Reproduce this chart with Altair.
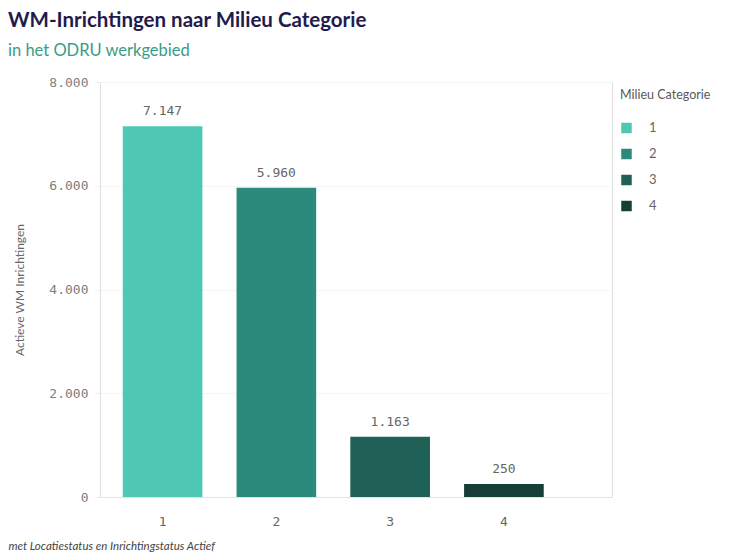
import altair as alt
import pandas as pd

categories = ["1", "2", "3", "4"]
values = [7147, 5960, 1163, 250]
colors = ["#4ec8b5", "#2b8a7b", "#1f6157", "#163d36"]
y_ticks = [0, 2000, 4000, 6000, 8000]

df = pd.DataFrame({"cat": categories, "val": values})

mono = "DejaVu Sans Mono"
sans = "Lato"

x_enc = alt.X(
    "cat:N",
    sort=categories,
    scale=alt.Scale(paddingInner=0.3, paddingOuter=0.4, align=0.25),
    axis=alt.Axis(
        title="met Locatiestatus en Inrichtingstatus Actief",
        titleFont=sans, titleFontStyle="italic", titleFontWeight="normal",
        titleFontSize=11.5, titleColor="#444444",
        titleX=-92, titleY=49, titleAlign="left", titleBaseline="middle",
        labelFont=mono, labelFontSize=13, labelColor="#666666",
        labelAngle=0, labelPadding=18, ticks=False,
        domainColor="#e3e3e3", grid=False,
    ),
)

bars = alt.Chart(df).mark_bar().encode(
    x=x_enc,
    y=alt.Y(
        "val:Q",
        scale=alt.Scale(domain=[0, 8000], nice=False),
        axis=alt.Axis(
            title="Actieve WM Inrichtingen",
            titleFont=sans, titleFontSize=12, titleFontWeight="normal",
            titleColor="#666666", titlePadding=22,
            values=y_ticks,
            labelExpr="replace(format(datum.value, ','), ',', '.')",
            labelFont=mono, labelFontSize=13, labelColor="#808080",
            labelPadding=7, tickSize=5, tickColor="#eeeeee",
            domain=False, gridColor="#f5f5f5",
        ),
    ),
    color=alt.Color(
        "cat:N",
        sort=categories,
        scale=alt.Scale(domain=categories, range=colors),
        legend=alt.Legend(
            title="Milieu Categorie",
            orient="none", legendX=520, legendY=7,
            titleFont=sans, titleFontSize=12.5, titleFontWeight="normal",
            titleColor="#595959", titlePadding=20,
            labelFont=sans, labelFontSize=13, labelColor="#666666",
            symbolType="square", symbolSize=110, symbolStrokeWidth=0,
            rowPadding=12, labelOffset=16,
        ),
    ),
)

labels = alt.Chart(df).transform_calculate(
    lbl="replace(format(datum.val, ','), ',', '.')"
).mark_text(
    font=mono, fontSize=13, color="#666666", baseline="bottom", dy=-8
).encode(
    x=alt.X("cat:N", sort=categories),
    y="val:Q",
    text="lbl:N",
)

chart = (
    alt.layer(bars, labels)
    .properties(
        width=512,
        height=415,
        title=alt.TitleParams(
            text="WM-Inrichtingen naar Milieu Categorie",
            subtitle="in het ODRU werkgebied",
            anchor="start", frame="bounds",
            font=sans, fontSize=20.5, fontWeight="bold", color="#1f1b4d",
            subtitleFont=sans, subtitleFontSize=16.5, subtitleColor="#3a9c88",
            subtitlePadding=11, offset=17,
        ),
        padding={"left": 0, "top": 3, "right": 0, "bottom": 0},
    )
    .configure_view(strokeWidth=0)
    .configure(background="white")
)

chart.save("out.html", embed_options={"renderer": "svg", "actions": False})
